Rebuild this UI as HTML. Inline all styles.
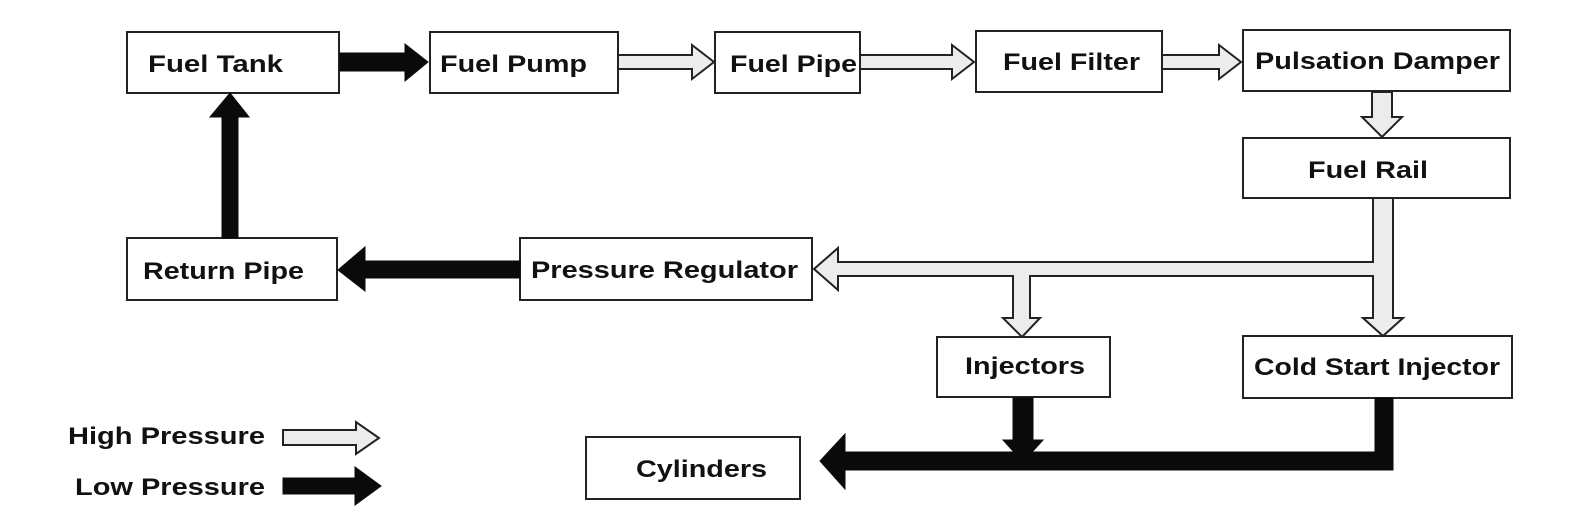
<!DOCTYPE html>
<html><head><style>
html,body{margin:0;padding:0;background:#fff;}
svg{display:block;}
text{font-family:"Liberation Sans",Arial,sans-serif;font-weight:bold;font-size:24px;fill:#111;}
.b{fill:#fff;stroke:#222;stroke-width:2;}
.h{fill:#ececec;stroke:#222;stroke-width:2;stroke-linejoin:miter;}
.l{fill:#0a0a0a;stroke:#0a0a0a;stroke-width:1;}
</style></head><body>
<svg width="1575" height="525" viewBox="0 0 1575 525">
<rect class="b" x="127" y="32" width="212" height="61"/>
<rect class="b" x="430" y="32" width="188" height="61"/>
<rect class="b" x="715" y="32" width="145" height="61"/>
<rect class="b" x="976" y="31" width="186" height="61"/>
<rect class="b" x="1243" y="30" width="267" height="61"/>
<rect class="b" x="1243" y="138" width="267" height="60"/>
<rect class="b" x="127" y="238" width="210" height="62"/>
<rect class="b" x="520" y="238" width="292" height="62"/>
<rect class="b" x="937" y="337" width="173" height="60"/>
<rect class="b" x="1243" y="336" width="269" height="62"/>
<rect class="b" x="586" y="437" width="214" height="62"/>
<text x="148" y="72" textLength="135" lengthAdjust="spacingAndGlyphs">Fuel Tank</text>
<text x="440" y="72" textLength="147" lengthAdjust="spacingAndGlyphs">Fuel Pump</text>
<text x="730" y="72" textLength="127" lengthAdjust="spacingAndGlyphs">Fuel Pipe</text>
<text x="1003" y="70" textLength="137" lengthAdjust="spacingAndGlyphs">Fuel Filter</text>
<text x="1255" y="69" textLength="245" lengthAdjust="spacingAndGlyphs">Pulsation Damper</text>
<text x="1308" y="178" textLength="120" lengthAdjust="spacingAndGlyphs">Fuel Rail</text>
<text x="143" y="279" textLength="161" lengthAdjust="spacingAndGlyphs">Return Pipe</text>
<text x="531" y="278" textLength="267" lengthAdjust="spacingAndGlyphs">Pressure Regulator</text>
<text x="965" y="374" textLength="120" lengthAdjust="spacingAndGlyphs">Injectors</text>
<text x="1254" y="375" textLength="246" lengthAdjust="spacingAndGlyphs">Cold Start Injector</text>
<text x="636" y="477" textLength="131" lengthAdjust="spacingAndGlyphs">Cylinders</text>
<text x="68" y="444" textLength="197" lengthAdjust="spacingAndGlyphs">High Pressure</text>
<text x="75" y="495" textLength="190" lengthAdjust="spacingAndGlyphs">Low Pressure</text>
<polygon class="l" points="340,53 405,53 405,44 428,62 405,81 405,71 340,71"/>
<polygon class="l" points="222,238 222,117 210,117 230,93 249,117 238,117 238,238"/>
<polygon class="l" points="520,261 365,261 365,247 338,270 365,291 365,278 520,278"/>
<polygon class="l" points="1013,398 1033,398 1033,440 1043,440 1023,462 1003,440 1013,440"/>
<polygon class="l" points="1375,398 1393,398 1393,470 845,470 845,489 820,461 845,434 845,452 1375,452"/>
<polygon class="l" points="283,478 355,478 355,467 381,486 355,505 355,494 283,494"/>
<polygon class="h" points="618,55 692,55 692,45 714,62 692,79 692,69 618,69"/>
<polygon class="h" points="860,55 952,55 952,45 974,62 952,79 952,69 860,69"/>
<polygon class="h" points="1162,55 1219,55 1219,45 1241,62 1219,79 1219,69 1162,69"/>
<polygon class="h" points="1372,92 1392,92 1392,117 1402,117 1382,137 1362,117 1372,117"/>
<polygon class="h" points="1373,198 1393,198 1393,318 1403,318 1383,336 1363,318 1373,318 1373,276 1030,276 1030,318 1040,318 1022,337 1003,318 1013,318 1013,276 838,276 838,290 814,269 838,248 838,262 1373,262"/>
<polygon class="h" points="283,430 356,430 356,422 379,438 356,454 356,445 283,445"/>
</svg>
</body></html>
